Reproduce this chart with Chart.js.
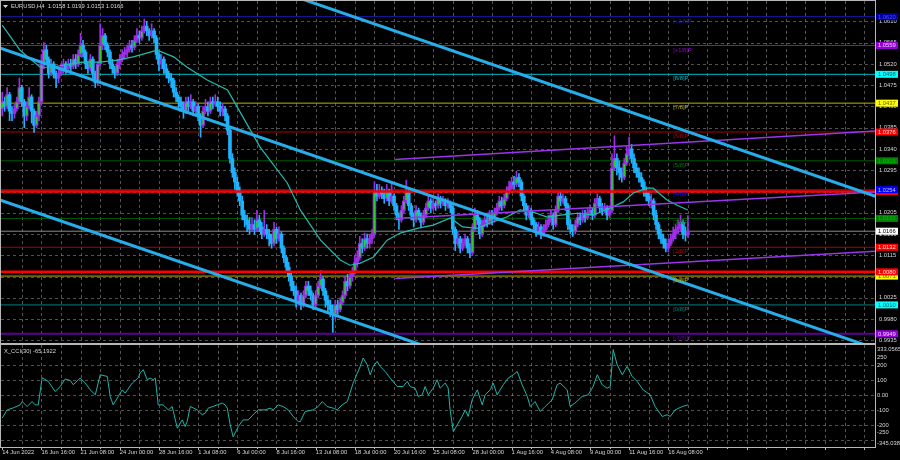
<!DOCTYPE html>
<html><head><meta charset="utf-8">
<script src="https://cdn.jsdelivr.net/npm/chart.js@4.4.1/dist/chart.umd.min.js"></script>
<style>
html,body{margin:0;padding:0;background:#000;width:900px;height:460px;overflow:hidden}
#c1{position:absolute;left:0;top:0}
#c2{position:absolute;left:0;top:344px}
</style></head><body>
<canvas id="c1" width="900" height="344"></canvas>
<canvas id="c2" width="900" height="116"></canvas>
<script>
// ---------- DATA (prices in pips, /10000) ----------
const symbolTitle = "EURUSD,H4  1.0158 1.0199 1.0153 1.0166";
const cciTitle = "X_CCI(30) -65.1922";
const firstOpen = 10425;
const closes = [10440,10430,10455,10420,10415,10425,10440,10470,10440,10410,
10430,10450,10420,10390,10410,10440,10520,10550,10530,10500,
10520,10500,10490,10500,10510,10520,10510,10520,10515,10530,
10520,10540,10560,10545,10520,10510,10530,10500,10480,10520,
10560,10580,10560,10545,10520,10510,10500,10520,10530,10540,
10545,10550,10560,10555,10570,10580,10575,10590,10600,10590,
10580,10590,10575,10540,10520,10530,10510,10500,10490,10485,
10460,10450,10440,10430,10420,10440,10430,10440,10420,10430,
10410,10390,10420,10430,10420,10440,10435,10440,10430,10420,
10425,10410,10380,10320,10290,10270,10250,10230,10200,10190,
10180,10170,10180,10170,10190,10175,10160,10170,10160,10150,
10140,10170,10150,10160,10130,10110,10090,10070,10050,10040,
10020,10030,10010,10030,10050,10040,10030,10010,10030,10050,
10065,10040,10020,10010,10000,9990,10010,10000,10015,10030,
10060,10050,10070,10080,10100,10110,10140,10130,10150,10140,
10150,10160,10250,10240,10250,10245,10235,10250,10230,10240,
10220,10200,10190,10210,10230,10250,10220,10200,10190,10210,
10200,10185,10200,10215,10230,10215,10225,10220,10235,10225,
10230,10220,10225,10215,10170,10140,10150,10130,10140,10150,
10130,10120,10170,10200,10190,10160,10180,10190,10185,10200,
10190,10205,10215,10230,10220,10235,10250,10260,10270,10265,
10280,10270,10240,10220,10200,10210,10190,10180,10165,10175,
10160,10170,10180,10190,10200,10180,10210,10240,10230,10235,
10220,10180,10170,10165,10180,10195,10190,10200,10195,10205,
10210,10200,10225,10235,10215,10210,10215,10200,10210,10300,
10320,10300,10290,10280,10310,10330,10340,10320,10300,10290,
10280,10270,10250,10240,10230,10230,10200,10180,10160,10150,
10140,10130,10140,10150,10160,10170,10175,10185,10160,10158,
10166];
const highs = [10460,10450,10470,10460,10430,10435,10450,10490,10475,10445,
10440,10470,10455,10425,10420,10450,10540,10565,10560,10535,
10530,10525,10505,10510,10520,10530,10525,10530,10530,10540,
10540,10550,10585,10570,10550,10525,10540,10535,10505,10525,
10605,10595,10585,10565,10550,10530,10515,10530,10540,10550,
10555,10560,10570,10570,10580,10595,10590,10600,10615,10610,
10595,10605,10595,10580,10545,10540,10535,10520,10505,10500,
10490,10470,10455,10450,10440,10450,10450,10455,10445,10440,
10435,10415,10430,10445,10440,10450,10450,10455,10450,10440,
10435,10430,10415,10385,10330,10300,10280,10260,10240,10210,
10200,10195,10195,10190,10210,10200,10185,10210,10180,10170,
10160,10185,10175,10175,10165,10135,10115,10100,10080,10060,
10050,10040,10035,10040,10060,10060,10050,10035,10040,10060,
10083,10070,10045,10030,10020,10010,10020,10020,10025,10040,
10070,10075,10080,10090,10115,10125,10155,10150,10162,10160,
10160,10170,10270,10265,10265,10260,10255,10265,10255,10270,
10245,10225,10205,10220,10240,10274,10255,10225,10205,10220,
10215,10205,10210,10225,10240,10235,10235,10230,10245,10240,
10240,10235,10235,10230,10220,10175,10165,10155,10150,10160,
10155,10140,10180,10215,10210,10195,10190,10200,10200,10210,
10210,10215,10225,10240,10238,10245,10260,10272,10280,10282,
10293,10288,10275,10245,10225,10220,10215,10195,10185,10185,
10180,10180,10190,10200,10210,10205,10220,10250,10250,10245,
10240,10225,10190,10180,10190,10205,10205,10210,10210,10215,
10222,10215,10235,10245,10240,10225,10225,10220,10220,10330,
10368,10330,10315,10300,10320,10345,10365,10350,10330,10310,
10300,10290,10275,10260,10250,10245,10235,10210,10185,10170,
10160,10150,10150,10160,10175,10180,10190,10200,10190,10175,
10199];
const lows = [10410,10420,10425,10400,10400,10405,10420,10435,10430,10385,
10400,10425,10395,10375,10385,10400,10435,10510,10520,10490,
10495,10490,10470,10480,10495,10500,10500,10505,10505,10510,
10510,10515,10535,10535,10510,10500,10505,10490,10470,10475,
10515,10550,10550,10535,10510,10500,10490,10495,10510,10525,
10530,10535,10545,10545,10550,10565,10565,10570,10585,10580,
10570,10575,10565,10530,10505,10510,10500,10490,10480,10470,
10450,10440,10425,10420,10405,10415,10420,10425,10410,10410,
10400,10365,10385,10415,10410,10415,10425,10430,10420,10410,
10410,10400,10370,10310,10280,10255,10240,10220,10190,10175,
10165,10160,10165,10160,10165,10165,10150,10155,10150,10135,
10130,10135,10140,10145,10120,10100,10080,10060,10040,10030,
10005,10010,10000,10005,10025,10030,10020,10000,10005,10025,
10045,10030,10005,9995,9985,9952,9980,9990,9995,10010,
10025,10040,10045,10060,10075,10090,10105,10120,10125,10130,
10130,10140,10155,10230,10235,10235,10225,10230,10220,10225,
10210,10190,10170,10185,10205,10225,10210,10190,10175,10185,
10190,10175,10180,10195,10210,10205,10210,10210,10215,10215,
10220,10210,10215,10205,10160,10125,10135,10120,10125,10135,
10120,10110,10115,10165,10180,10150,10155,10175,10175,10180,
10180,10185,10200,10210,10210,10215,10230,10245,10255,10255,
10260,10260,10230,10210,10190,10195,10180,10170,10155,10160,
10150,10155,10165,10175,10185,10170,10175,10205,10220,10225,
10210,10170,10160,10155,10160,10175,10180,10185,10185,10190,
10200,10190,10195,10220,10205,10200,10205,10190,10195,10205,
10295,10285,10275,10270,10275,10305,10325,10310,10290,10280,
10270,10260,10240,10230,10220,10215,10190,10170,10150,10140,
10130,10122,10122,10135,10145,10150,10160,10165,10150,10145,
10153];
// moving average: [bar, pips]
const maPoints = [[0,10602],[7.3,10549],[15.5,10513],[19.6,10513],[33,10524],[40,10524],[47,10528],[53.5,10535],[63.3,10549],[70,10535],[75.5,10513],[83.7,10486],[92,10465],[94.3,10444],[105.3,10344],[116.4,10268],[121.7,10211],[130,10147],[138,10105],[142,10094],[146,10098],[151.5,10111],[157.2,10147],[162.5,10162],[169.5,10172],[176,10179],[183,10194],[188,10175],[194,10172],[199,10183],[206,10196],[211.5,10211],[217,10206],[222.5,10196],[228,10200],[235,10204],[241.3,10200],[248.3,10215],[253.6,10228],[257.7,10247],[263.4,10257],[265.8,10257],[271.5,10232],[275.6,10221],[280,10211]];
// CCI(30): [bar, value]
const cciPoints = [[0,-153],[2,-98],[4.5,-85],[7.3,-65],[8.2,-43],[10.2,-76],[12.2,-43],[13.5,-65],[14.7,-65],[16.3,115],[18.8,91],[21.6,24],[23.7,57],[25.7,107],[27.8,97],[29,69],[31.8,113],[33.9,80],[35.9,35],[38,2],[40,135],[42.9,124],[44.1,-9],[45.3,-65],[47,-20],[49,35],[50.2,13],[53.1,80],[55.5,113],[56.3,147],[57.6,169],[59.2,102],[60.4,113],[61.7,102],[62.5,113],[63.7,-65],[65.7,-65],[67.8,-98],[69.4,-76],[71.5,-220],[73.5,-165],[74.7,-209],[75.5,-176],[76.8,-76],[79.6,-98],[81.7,-131],[82.9,-120],[84.1,-87],[87.8,-65],[89.8,-53],[91,-65],[91.9,-87],[93.1,-198],[94.3,-278],[96.4,-209],[98.4,-165],[100.4,-165],[102.5,-131],[104.5,-98],[107.4,-98],[109.4,-87],[110.7,-98],[112.7,-65],[114.7,-76],[116.8,-98],[118.8,-142],[120.9,-176],[121.7,-176],[123.7,-109],[127,-98],[129,-76],[130.7,-43],[132.7,-76],[135.2,-87],[136.8,-98],[138.8,-65],[140.9,-43],[143.3,80],[146.2,191],[147.4,247],[149,202],[150.3,135],[151.5,191],[153.1,224],[154.3,191],[156.4,157],[158.4,113],[161.3,57],[163.7,57],[165.4,91],[166.6,57],[168.6,46],[169.9,-9],[171.5,2],[172.7,57],[174,2],[176,46],[177.6,102],[178.8,46],[180.9,80],[182.1,46],[182.9,-98],[184.2,-242],[185.8,-198],[187.8,-142],[189.1,-98],[190.3,-142],[191.9,-31],[194,35],[196,-65],[197.2,2],[199.3,35],[200.5,80],[202.1,2],[204.6,69],[206.6,113],[208.7,135],[210.3,157],[212.3,69],[214.4,-9],[215.6,-76],[217.6,-43],[219.7,-109],[221.7,-76],[224.6,-31],[226.6,69],[227.8,80],[230.7,35],[231.9,-76],[233.9,-53],[236.8,-9],[239.3,2],[241.3,57],[243,135],[245,69],[247,46],[248.3,57],[249.5,302],[251.1,202],[253.2,135],[255.2,191],[257.2,124],[259.3,91],[261.7,35],[264.6,2],[266.6,-76],[269.5,-142],[271.5,-131],[272.8,-142],[274.8,-98],[277.7,-76],[280,-65]];
// trend lines: [[bar, pips],[bar, pips]]
const blueTrend = [[[112,10676],[357,10239]],[[-1,10554],[357,9917]],[[-1,10232],[174.8,9919]]];
const purpleChannel = [[[160.5,10318],[357,10378]],[[160.5,10193],[357,10249]],[[160.5,10066],[357,10124]]];
// Murray levels
const levelNames = ["[+2/8]P","[+1/8]P","[8/8]P","[7/8]P","[6/8]P","[5/8]P","[4/8]P","[3/8]P","[2/8]P","[1/8]P","[0/8]P","[-1/8]P"];
const levelPrices = [10620,10559,10498,10437,10376,10315,10254,10193,10132,10071,10010,9949];
const levelLine = ['#1a1aa8','#9400d3','#00b8c8','#c0b000','#b00000','#005a00','#1818ff','#005a00','#b00000','#c0b000','#008080','#5c0098'];
const levelBox  = ['#0000a0','#9400d3','#00ffff','#ffff00','#ff0000','#008000','#0000ff','#008000','#ff0000','#ffff00','#00ffff','#9400d3'];
const levelText = ['#5050ff','#f0d0ff','#006060','#606000','#ffe0e0','#00c000','#c0c0ff','#00c000','#ffe0e0','#606000','#006060','#f0d0ff'];
const redLevels = [10250,10080];
const currentPrice = 10166;
const priceTicks = [10610,10565,10520,10475,10430,10385,10340,10295,10250,10205,10160,10115,10070,10025,9980,9935];
const cciTicks = [333.0565,250,200,100,0,-100,-200,-250,-345.038];
const cciTickText = ["333.0565","250","200","100","0.00","-100","-200","-250","-345.038"];
const cciGrid = [200,100,0,-100,-200,-300];
const timeLabels = ["14 Jun 2022","16 Jun 16:00","21 Jun 08:00","24 Jun 00:00","28 Jun 16:00","1 Jul 08:00","6 Jul 00:00","8 Jul 16:00","13 Jul 08:00","18 Jul 00:00","20 Jul 16:00","25 Jul 08:00","28 Jul 00:00","1 Aug 16:00","4 Aug 08:00","9 Aug 00:00","11 Aug 16:00","16 Aug 08:00"];
const barsPerLabel = 16, barsPerGrid = 8, levelLabelBar = 274;

// ---------- helpers ----------
const P = v => v/10000;
const FONT = '5.8px "Liberation Sans", Arial, sans-serif';
const TXT = '#d8d8d8';
const UPC = '#9c2ee8', DNC = '#1fb2ff', BODYC = '#2ccc2c';
const XMIN = -0.5, XMAX = 356.4;
const opens = closes.map((c,i)=> i===0 ? firstOpen : closes[i-1]);
const isUp = i => closes[i] >= opens[i];
const seg = (pts) => pts.map(p=>({x:p[0], y:P(p[1])}));
const lineDs = (data, color, w, order) => ({type:'line', data, borderColor:color, borderWidth:w, pointRadius:0, tension:0, fill:false, order});

const datasets = [];
levelPrices.forEach((lv,i)=>datasets.push(lineDs([{x:XMIN-2,y:P(lv)},{x:XMAX+2,y:P(lv)}], levelLine[i], i===11?2:1, 30)));
datasets.push(lineDs([{x:XMIN-2,y:P(currentPrice)},{x:XMAX+2,y:P(currentPrice)}], '#8a8a8a', 1, 30));
// candles: wick, body, inner body of up candles
datasets.push({type:'bar', data: closes.map((c,i)=>({x:i, y:[P(lows[i]),P(highs[i])]})), grouped:false, barThickness:1,
  backgroundColor: closes.map((c,i)=> isUp(i)?UPC:DNC), order:22});
datasets.push({type:'bar', data: closes.map((c,i)=>({x:i, y:[P(opens[i]),P(c)]})), grouped:false, barThickness:3, minBarLength:1,
  backgroundColor: closes.map((c,i)=> isUp(i)?UPC:DNC), order:21});
datasets.push({type:'bar', data: closes.map((c,i)=> isUp(i) && c-opens[i]>=12 ? {x:i, y:[P(opens[i]+3),P(c-3)]} : {x:i, y:null}), grouped:false, barThickness:1,
  backgroundColor: BODYC, order:20});
// on-top objects
redLevels.forEach(lv=>datasets.push(lineDs([{x:XMIN-2,y:P(lv)},{x:XMAX+2,y:P(lv)}], '#ff0000', 2.5, 5)));
datasets.push(lineDs(seg(maPoints), '#22bcb0', 1.2, 4));
purpleChannel.forEach(s=>datasets.push(lineDs(seg(s), '#9b35ea', 1.5, 3)));
blueTrend.forEach(s=>datasets.push(lineDs(seg(s), '#26aeea', 3, 2)));

const mainDeco = {
  id:'mainDeco',
  beforeDraw(chart){ const c=chart.ctx; c.save(); c.fillStyle='#000'; c.fillRect(0,0,chart.width,chart.height); c.restore(); },
  beforeDatasetsDraw(chart){
    const {ctx:c, chartArea:a, scales:{x,y}} = chart;
    c.save(); c.strokeStyle='rgba(150,150,150,0.55)'; c.lineWidth=1; c.setLineDash([3,3]);
    priceTicks.forEach(p=>{const py=Math.round(y.getPixelForValue(P(p)))+0.5; c.beginPath(); c.moveTo(a.left,py); c.lineTo(a.right,py); c.stroke();});
    for(let b=barsPerGrid;b<XMAX;b+=barsPerGrid){const px=Math.round(x.getPixelForValue(b))+0.5; c.beginPath(); c.moveTo(px,a.top); c.lineTo(px,a.bottom); c.stroke();}
    c.restore();
  },
  afterDraw(chart){
    const {ctx:c, chartArea:a, scales:{x,y}} = chart;
    c.save();
    c.strokeStyle='#b8b8b8'; c.lineWidth=1; c.setLineDash([]);
    c.strokeRect(a.left-0.5, a.top-0.5, a.right-a.left+1, a.bottom-a.top+1);
    c.font=FONT; c.textAlign='left'; c.textBaseline='top';
    levelPrices.forEach((lv,i)=>{ c.fillStyle=levelLine[i]==='#005a00'?'#007a00':levelLine[i]; c.fillText(levelNames[i], x.getPixelForValue(levelLabelBar), y.getPixelForValue(P(lv))+1.5); });
    c.textBaseline='middle'; c.fillStyle=TXT;
    priceTicks.forEach(p=>c.fillText(P(p).toFixed(4), a.right+4, y.getPixelForValue(P(p))));
    const box=(v,bg,fg)=>{const py=y.getPixelForValue(P(v)); c.fillStyle=bg; c.fillRect(a.right+1, py-3.5, 22, 7); c.fillStyle=fg; c.fillText(P(v).toFixed(4), a.right+3, py+0.3);};
    box(redLevels[0],'#ff0000','#ffe0e0');
    levelPrices.forEach((lv,i)=>box(lv, levelBox[i], levelText[i]));
    box(redLevels[1],'#ff0000','#ffe0e0');
    box(currentPrice,'#ffffff','#000000');
    c.fillStyle=TXT; c.beginPath(); c.moveTo(3,5); c.lineTo(8,5); c.lineTo(5.5,8); c.closePath(); c.fill();
    c.textBaseline='middle'; c.fillText(symbolTitle, 11, 6.5);
    c.restore();
  }
};

new Chart(document.getElementById('c1'), {
  type:'bar',
  data:{datasets},
  options:{responsive:false, animation:false, events:[],
    layout:{padding:{left:1,right:25,top:1,bottom:1}},
    plugins:{legend:{display:false}, tooltip:{enabled:false}},
    scales:{
      x:{type:'linear', display:false, min:XMIN, max:XMAX, offset:false},
      y:{type:'linear', display:false, min:0.99294, max:1.06532}
    }},
  plugins:[mainDeco]
});

const cciDeco = {
  id:'cciDeco',
  beforeDraw(chart){ const c=chart.ctx; c.save(); c.fillStyle='#000'; c.fillRect(0,0,chart.width,chart.height); c.restore(); },
  beforeDatasetsDraw(chart){
    const {ctx:c, chartArea:a, scales:{x,y}} = chart;
    c.save(); c.strokeStyle='rgba(150,150,150,0.55)'; c.lineWidth=1; c.setLineDash([3,3]);
    cciGrid.forEach(v=>{const py=Math.round(y.getPixelForValue(v))+0.5; c.beginPath(); c.moveTo(a.left,py); c.lineTo(a.right,py); c.stroke();});
    for(let b=barsPerGrid;b<XMAX;b+=barsPerGrid){const px=Math.round(x.getPixelForValue(b))+0.5; c.beginPath(); c.moveTo(px,a.top); c.lineTo(px,a.bottom); c.stroke();}
    c.restore();
  },
  afterDraw(chart){
    const {ctx:c, chartArea:a, scales:{x,y}} = chart;
    c.save();
    c.strokeStyle='#b8b8b8'; c.lineWidth=1; c.setLineDash([]);
    c.strokeRect(a.left-0.5, a.top-0.5, a.right-a.left+1, a.bottom-a.top+1);
    c.font=FONT; c.fillStyle=TXT; c.textAlign='left';
    cciTicks.forEach((v,i)=>{ const last=cciTicks.length-1; c.textBaseline = i===0?'top':(i===last?'bottom':'middle'); c.fillText(cciTickText[i], a.right+2, y.getPixelForValue(v)+(i===0?1:(i===last?-1:0))); });
    c.textBaseline='top'; c.fillText(cciTitle, a.left+3, a.top+3);
    c.textBaseline='middle';
    for(let b=0;b<XMAX;b+=barsPerGrid){const px=Math.round(x.getPixelForValue(b))+0.5; c.beginPath(); c.moveTo(px,a.bottom); c.lineTo(px,a.bottom+(b%barsPerLabel===0?3:2)); c.stroke();}
    timeLabels.forEach((t,i)=>c.fillText(t, x.getPixelForValue(i*barsPerLabel), a.bottom+5.5));
    c.restore();
  }
};

new Chart(document.getElementById('c2'), {
  type:'line',
  data:{datasets:[{data: cciPoints.map(p=>({x:p[0],y:p[1]})), borderColor:'#20b4aa', borderWidth:1, pointRadius:0, tension:0, fill:false}]},
  options:{responsive:false, animation:false, events:[],
    layout:{padding:{left:1,right:25,top:1,bottom:13}},
    plugins:{legend:{display:false}, tooltip:{enabled:false}},
    scales:{
      x:{type:'linear', display:false, min:XMIN, max:XMAX},
      y:{type:'linear', display:false, min:-345.038, max:333.0565}
    }},
  plugins:[cciDeco]
});
</script>
</body></html>
